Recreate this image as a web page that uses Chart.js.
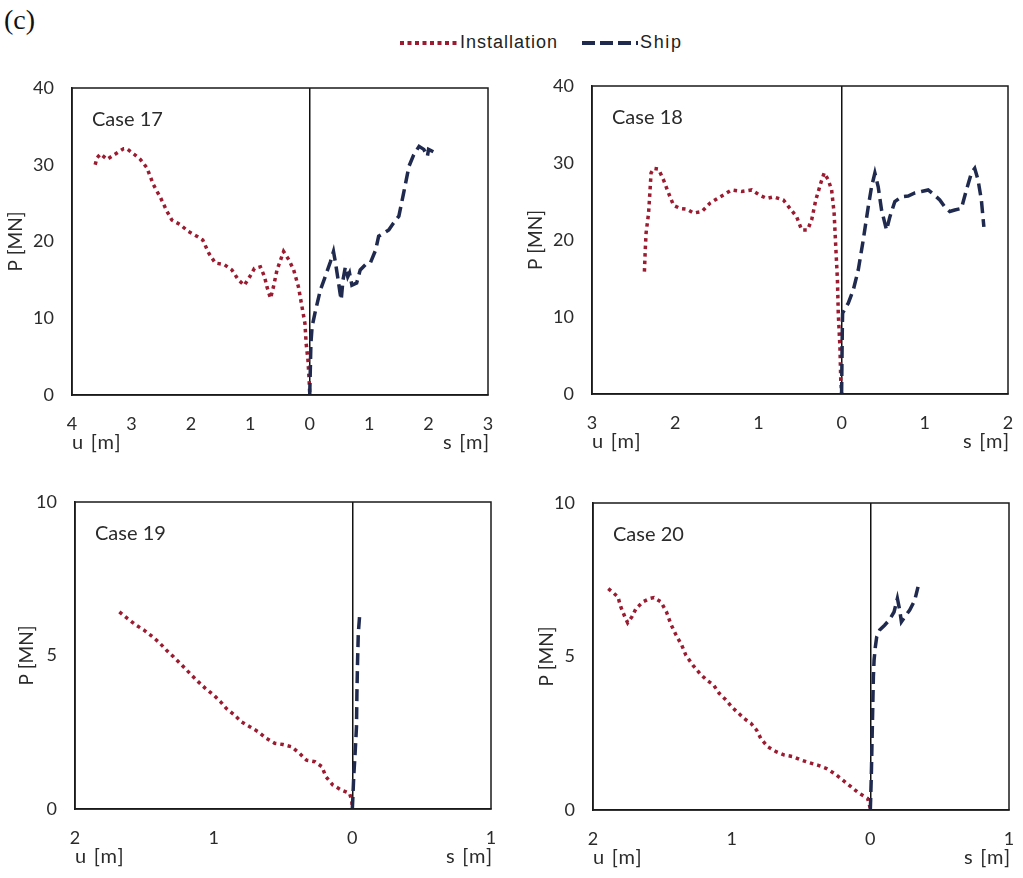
<!DOCTYPE html>
<html>
<head>
<meta charset="utf-8">
<script src="https://cdn.jsdelivr.net/npm/chart.js@4.4.1/dist/chart.umd.min.js"></script>
<style>
  html, body { margin: 0; padding: 0; background: #ffffff; }
  body { width: 1023px; height: 878px; position: relative; overflow: hidden; font-family: Lato, "Open Sans", sans-serif; color: #2b2b2b; }
  canvas { position: absolute; }
  .lbl { position: absolute; white-space: nowrap; font-family: Lato, sans-serif; font-size: 20px; color: #2b2b2b; line-height: 1; }
  .ax { letter-spacing: 1.2px; }
  #tag { position: absolute; left: 4px; top: 4px; font-family: "Liberation Serif", "Times New Roman", serif; font-size: 28px; color: #111; }
  #legend { position: absolute; left: 398px; top: 32px; display: flex; align-items: center; font-family: "Liberation Sans", Arial, sans-serif; font-size: 18px; letter-spacing: 1px; color: #222; }
  #legend svg { display: block; }
</style>
</head>
<body>
<div id="tag">(c)</div>
<div id="legend">
  <svg width="62" height="20"><line x1="2" y1="10" x2="60" y2="10" stroke="#9b1b30" stroke-width="4" stroke-dasharray="4,3.5"/></svg>
  <span id="legInst">Installation</span>
  <span style="display:inline-block;width:24px"></span>
  <svg width="58" height="20"><line x1="0" y1="10" x2="56" y2="10" stroke="#1f2a4e" stroke-width="4" stroke-dasharray="13,5"/></svg>
  <span style="letter-spacing:1.6px">Ship</span>
</div>
<canvas id="c17" width="500" height="390" style="left:0px;top:70px"></canvas>
<canvas id="c18" width="503" height="390" style="left:520px;top:70px"></canvas>
<canvas id="c19" width="500" height="398" style="left:0px;top:480px"></canvas>
<canvas id="c20" width="503" height="398" style="left:520px;top:480px"></canvas>
<script>
// ---------------- DATA ----------------
const seriesNames = ["Installation", "Ship"];
const caseNames = ["Case 17", "Case 18", "Case 19", "Case 20"];

// Case 17 (u, s in m; P in MN)
const c17_inst_u = [3.61,3.58,3.52,3.41,3.27,3.13,3.08,2.96,2.85,2.74,2.63,2.51,2.40,2.32,2.18,2.04,1.90,1.80,1.70,1.59,1.44,1.31,1.20,1.10,1.01,0.93,0.83,0.76,0.72,0.66,0.61,0.55,0.49,0.44,0.35,0.27,0.19,0.13,0.08,0.06,0.03,0.01,0.00];
const c17_inst_P = [30.0,30.9,31.4,30.7,31.4,32.1,32.1,31.4,30.7,29.6,27.4,25.7,23.9,22.8,22.2,21.3,20.7,20.2,18.5,17.2,17.0,16.3,15.0,14.3,15.4,16.5,16.7,15.4,14.1,12.6,14.1,16.3,17.6,18.7,17.6,16.3,14.1,11.5,9.3,6.7,4.6,2.0,0.2];
const c17_ship_s = [0.00,0.01,0.02,0.04,0.10,0.18,0.26,0.35,0.40,0.43,0.47,0.51,0.53,0.56,0.60,0.64,0.67,0.71,0.79,0.85,0.94,1.02,1.11,1.16,1.25,1.33,1.41,1.50,1.58,1.67,1.75,1.84,1.92,1.98,2.00,2.08];
const c17_ship_P = [0.0,3.3,6.7,8.9,11.1,13.7,15.4,17.4,18.7,17.4,15.4,13.3,12.4,15.0,16.7,15.4,15.9,14.3,14.6,16.3,17.0,17.2,18.9,20.7,21.1,21.5,22.4,23.3,26.3,29.8,31.3,32.4,32.0,31.1,32.0,31.7];

// Case 18
const c18_inst_u = [2.37,2.36,2.35,2.32,2.30,2.29,2.26,2.20,2.14,2.08,2.02,1.94,1.86,1.78,1.68,1.58,1.46,1.32,1.20,1.08,0.98,0.90,0.82,0.70,0.62,0.54,0.48,0.41,0.36,0.31,0.25,0.21,0.16,0.12,0.09,0.07,0.05,0.04,0.02,0.01,0.00];
const c18_inst_P = [15.9,18.7,20.9,23.5,26.9,28.7,29.3,29.2,27.8,26.1,24.5,24.1,24.0,23.5,23.7,24.8,25.6,26.5,26.3,26.5,25.8,25.4,25.6,25.2,24.1,23.0,21.3,21.3,22.6,25.2,27.4,28.7,27.8,26.5,23.5,19.1,14.8,10.5,6.1,1.8,0.1];
const c18_ship_s = [0.00,0.004,0.008,0.012,0.08,0.14,0.20,0.26,0.32,0.36,0.40,0.44,0.48,0.54,0.58,0.64,0.72,0.80,0.88,0.96,1.04,1.12,1.18,1.24,1.30,1.36,1.44,1.50,1.56,1.60,1.64,1.68,1.71];
const c18_ship_P = [0.0,4.0,7.9,10.5,11.8,13.5,16.1,20.0,24.3,26.9,28.7,26.9,23.9,21.3,23.0,25.0,25.6,25.7,26.1,26.3,26.5,25.8,25.2,24.3,23.7,23.9,24.1,26.5,28.7,29.3,27.8,25.2,21.7];

// Case 19
const c19_inst_u = [1.68,1.62,1.56,1.50,1.44,1.39,1.34,1.29,1.23,1.17,1.11,1.06,1.00,0.95,0.91,0.85,0.80,0.74,0.68,0.62,0.56,0.50,0.44,0.38,0.33,0.27,0.22,0.19,0.14,0.08,0.02,0.005,0.00];
const c19_inst_P = [6.42,6.20,5.99,5.82,5.61,5.41,5.17,4.96,4.69,4.41,4.14,3.93,3.71,3.49,3.28,3.06,2.84,2.68,2.52,2.30,2.14,2.10,2.03,1.81,1.59,1.54,1.38,1.05,0.78,0.62,0.51,0.29,0.08];
const c19_ship_s = [0.00,0.005,0.01,0.02,0.03,0.033,0.038,0.043,0.052,0.062];
const c19_ship_P = [0.00,0.50,1.05,1.81,2.68,3.76,4.85,5.72,6.26,6.42];

// Case 20
const c20_inst_u = [1.89,1.86,1.82,1.80,1.77,1.75,1.72,1.69,1.64,1.59,1.56,1.51,1.47,1.44,1.40,1.36,1.33,1.28,1.23,1.18,1.13,1.09,1.04,1.00,0.95,0.91,0.86,0.82,0.79,0.74,0.68,0.62,0.56,0.50,0.44,0.38,0.32,0.26,0.20,0.14,0.08,0.02,0.00];
const c20_inst_P = [7.21,7.10,6.94,6.62,6.29,6.10,6.29,6.56,6.78,6.89,6.92,6.78,6.45,6.07,5.69,5.37,5.04,4.72,4.45,4.23,4.07,3.80,3.58,3.36,3.15,2.98,2.82,2.60,2.33,2.06,1.90,1.79,1.74,1.63,1.54,1.46,1.36,1.19,0.98,0.76,0.54,0.38,0.05];
const c20_ship_s = [0.00,0.007,0.012,0.017,0.022,0.027,0.036,0.046,0.067,0.103,0.139,0.171,0.195,0.212,0.224,0.248,0.284,0.320,0.344];
const c20_ship_P = [0.00,1.08,2.17,3.25,4.34,4.88,5.31,5.64,5.86,6.02,6.20,6.45,6.89,6.51,6.13,6.29,6.51,6.83,7.27];

// Axis limits / tick steps
const xLimits = { c17: [-4, 3], c18: [-3, 2], c19: [-2, 1], c20: [-2, 1] };
const yLimits = { c17: [0, 40, 10], c18: [0, 40, 10], c19: [0, 10, 5], c20: [0, 10, 5] };

// ---------------- STYLE / LAYOUT ----------------
const INST_COLOR = "#9b1b30";
const SHIP_COLOR = "#1f2a4e";
const TEXT_COLOR = "#2b2b2b";
const FONT = "Lato, 'Open Sans', sans-serif";

// target plot areas in page pixels
const targetArea = {
  c17: { left: 72, right: 488, top: 88, bottom: 395 },
  c18: { left: 592, right: 1008, top: 86, bottom: 394 },
  c19: { left: 75, right: 491, top: 502, bottom: 809 },
  c20: { left: 593, right: 1009, top: 503, bottom: 810 }
};
const layoutCfg = {
  c17: { pad: { left: 0, right: 12, top: 18, bottom: 15 }, yw: 72, titlePad: 4 },
  c18: { pad: { left: 0, right: 15, top: 16, bottom: 16 }, yw: 72, titlePad: 4 },
  c19: { pad: { left: 0, right: 9, top: 22, bottom: 19 }, yw: 75, titlePad: 15 },
  c20: { pad: { left: 0, right: 14, top: 23, bottom: 18 }, yw: 73, titlePad: 15 }
};

function pts(xs, ys, sign) {
  return xs.map((v, i) => ({ x: sign * v, y: ys[i] }));
}

const framePlugin = {
  id: "frame",
  afterDraw(chart) {
    const { ctx, chartArea: a } = chart;
    ctx.save();
    ctx.strokeStyle = "#1a1a1a";
    ctx.lineWidth = 1.5;
    ctx.strokeRect(a.left, a.top, a.right - a.left, a.bottom - a.top);
    ctx.restore();
  }
};

function makeChart(id, instU, instP, shipS, shipP) {
  const L = layoutCfg[id];
  const xl = xLimits[id], yl = yLimits[id];
  return new Chart(document.getElementById(id), {
    type: "line",
    data: {
      datasets: [
        { label: seriesNames[0], data: pts(instU, instP, -1), borderColor: INST_COLOR, borderWidth: 3.5, borderDash: [3.5, 4], pointRadius: 0, tension: 0, fill: false, order: 2 },
        { label: seriesNames[1], data: pts(shipS, shipP, 1), borderColor: SHIP_COLOR, borderWidth: 3.5, borderDash: [12, 6], pointRadius: 0, tension: 0, fill: false, order: 1 }
      ]
    },
    options: {
      responsive: false,
      animation: false,
      devicePixelRatio: 1,
      layout: { padding: Object.assign({}, L.pad) },
      plugins: { legend: { display: false }, tooltip: { enabled: false } },
      scales: {
        x: {
          type: "linear", min: xl[0], max: xl[1],
          afterFit: s => { s.height = 50; },
          ticks: { stepSize: 1, padding: 0, color: TEXT_COLOR, font: { family: FONT, size: 18 }, maxRotation: 0, callback: v => String(Math.abs(v)) },
          grid: { drawTicks: true, tickLength: 18, tickColor: "rgba(0,0,0,0)", color: c => (c.tick && c.tick.value === 0 ? "#111" : "rgba(0,0,0,0)"), lineWidth: 1.5 },
          border: { display: true, color: "#1a1a1a", width: 1.5 }
        },
        y: {
          min: yl[0], max: yl[1],
          afterFit: s => { s.width = L.yw; },
          ticks: { stepSize: yl[2], padding: 0, color: TEXT_COLOR, font: { family: FONT, size: 18 } },
          grid: { display: true, drawOnChartArea: false, drawTicks: true, tickLength: 18, tickColor: "rgba(0,0,0,0)", color: "rgba(0,0,0,0)" },
          border: { display: true, color: "#1a1a1a", width: 1.5 },
          title: { display: true, text: "P [MN]", color: TEXT_COLOR, font: { family: FONT, size: 19 }, padding: { top: L.titlePad, bottom: 0 } }
        }
      }
    },
    plugins: [framePlugin]
  });
}

const ids = ["c17", "c18", "c19", "c20"];
const charts = [
  makeChart("c17", c17_inst_u, c17_inst_P, c17_ship_s, c17_ship_P),
  makeChart("c18", c18_inst_u, c18_inst_P, c18_ship_s, c18_ship_P),
  makeChart("c19", c19_inst_u, c19_inst_P, c19_ship_s, c19_ship_P),
  makeChart("c20", c20_inst_u, c20_inst_P, c20_ship_s, c20_ship_P)
];

// nudge layout padding so each plot area lands on its target position
charts.forEach((ch, i) => {
  const t = targetArea[ids[i]];
  const cv = ch.canvas;
  const ox = parseFloat(cv.style.left), oy = parseFloat(cv.style.top);
  for (let k = 0; k < 3; k++) {
    const a = ch.chartArea;
    const p = ch.options.layout.padding;
    const np = {
      left: Math.max(0, p.left + (t.left - (ox + a.left))),
      right: Math.max(0, p.right + ((ox + a.right) - t.right)),
      top: Math.max(0, p.top + (t.top - (oy + a.top))),
      bottom: Math.max(0, p.bottom + ((oy + a.bottom) - t.bottom))
    };
    ch.options.layout.padding = np;
    ch.update("none");
  }
});

// HTML text overlays placed relative to each chart area
charts.forEach((ch, i) => {
  const cv = ch.canvas;
  const ox = parseFloat(cv.style.left), oy = parseFloat(cv.style.top);
  const a = ch.chartArea;
  const add = (txt, css, cls) => {
    const d = document.createElement("div");
    d.className = "lbl" + (cls ? " " + cls : "");
    d.textContent = txt;
    Object.assign(d.style, css);
    document.body.appendChild(d);
    return d;
  };
  add(caseNames[i], { left: (ox + a.left + 20) + "px", top: (oy + a.top + 20) + "px" });
  add("u [m]", { left: (ox + a.left) + "px", top: (oy + a.bottom + 36) + "px" }, "ax");
  const s = add("s [m]", { top: (oy + a.bottom + 36) + "px" }, "ax");
  s.style.left = (ox + a.right + 2 - s.offsetWidth) + "px";
});
</script>
</body>
</html>
